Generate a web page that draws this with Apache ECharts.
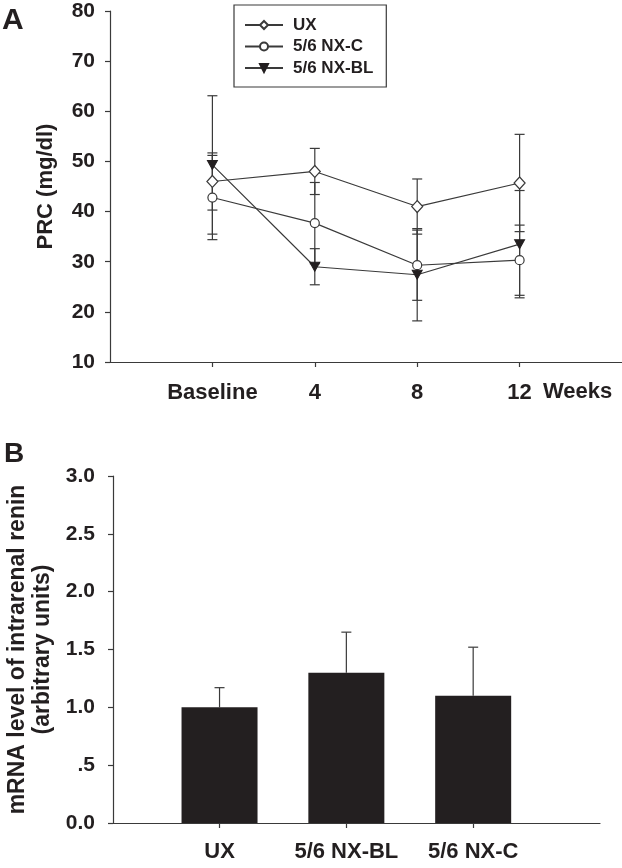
<!DOCTYPE html>
<html>
<head>
<meta charset="utf-8">
<script src="https://cdn.jsdelivr.net/npm/echarts@6/dist/echarts.min.js"></script>
<style>html,body{margin:0;padding:0;background:#fff}#c{width:622px;height:868px}</style>
</head>
<body>
<div id="c"></div>
<script>
// ---- Panel A data ----
const weekLabels = ['Baseline', '4', '8', '12'];
const weekPos = [1, 2, 3, 4];
const seriesNames = ['UX', '5/6 NX-C', '5/6 NX-BL'];
const uxMean = [46.0, 48.0, 41.0, 45.7];
const uxSE   = [5.7, 4.6, 5.5, 9.7];
const ncMean = [42.8, 37.7, 29.3, 30.3];
const ncSE   = [8.4, 8.1, 7.0, 7.0];
const blMean = [49.3, 29.0, 27.4, 33.5];
const blSE   = [13.8, 3.6, 9.2, 10.7];

// ---- Panel B data ----
const groupLabels = ['UX', '5/6 NX-BL', '5/6 NX-C'];
const groupPos = [1, 2, 3];
const mrnaMean = [1.00, 1.30, 1.10];
const mrnaSE   = [0.17, 0.35, 0.42];

const INK = '#231f20';
const AX = '#3a3a3a';
const FONT = '"Liberation Sans", Arial, Helvetica, sans-serif';

function pts(pos, vals) { return pos.map((p, i) => [p, vals[i]]); }
function errPts(pos, m, s) { return pos.map((p, i) => [p, m[i], s[i]]); }

function errRender(both) {
  return function (params, api) {
    const x = api.value(0), m = api.value(1), e = api.value(2);
    const top = api.coord([x, m + e]);
    const bot = api.coord([x, both ? m - e : m]);
    const hw = 5;
    const st = { stroke: AX, lineWidth: 1.2 };
    const ch = [
      { type: 'line', shape: { x1: top[0], y1: top[1], x2: bot[0], y2: bot[1] }, style: st },
      { type: 'line', shape: { x1: top[0] - hw, y1: top[1], x2: top[0] + hw, y2: top[1] }, style: st }
    ];
    if (both) ch.push({ type: 'line', shape: { x1: bot[0] - hw, y1: bot[1], x2: bot[0] + hw, y2: bot[1] }, style: st });
    return { type: 'group', children: ch };
  };
}

const chart = echarts.init(document.getElementById('c'), null, { renderer: 'canvas' });

const axisCommon = {
  axisLine: { show: true, lineStyle: { color: AX, width: 1.2 } },
  axisTick: { show: true, inside: false, length: 5, lineStyle: { color: AX, width: 1.2 } },
  splitLine: { show: false }
};

const option = {
  animation: false,
  backgroundColor: '#fff',
  textStyle: { fontFamily: FONT },
  grid: [
    { left: 110, top: 11, width: 512, height: 351, containLabel: false, outerBoundsMode: 'none' },
    { left: 113, top: 476, width: 487, height: 347, containLabel: false, outerBoundsMode: 'none' }
  ],
  xAxis: [
    Object.assign({}, axisCommon, {
      gridIndex: 0, type: 'value', min: 0, max: 5,
      axisTick: Object.assign({}, axisCommon.axisTick, { customValues: weekPos }),
      axisLabel: {
        customValues: weekPos, margin: 20, color: INK, fontSize: 22, fontWeight: 'bold', fontFamily: FONT,
        formatter: v => weekLabels[weekPos.indexOf(v)] || ''
      }
    }),
    Object.assign({}, axisCommon, {
      gridIndex: 1, type: 'value', min: 0.16, max: 4,
      axisTick: Object.assign({}, axisCommon.axisTick, { customValues: groupPos }),
      axisLabel: {
        customValues: groupPos, margin: 18, color: INK, fontSize: 22, fontWeight: 'bold', fontFamily: FONT,
        formatter: v => groupLabels[groupPos.indexOf(v)] || ''
      }
    })
  ],
  yAxis: [
    Object.assign({}, axisCommon, {
      gridIndex: 0, type: 'value', min: 10, max: 80, interval: 10,
      axisLabel: { margin: 15, color: INK, fontSize: 21, fontWeight: 'bold', fontFamily: FONT },
      name: 'PRC (mg/dl)', nameLocation: 'middle', nameRotate: 90, nameGap: 53,
      nameTextStyle: { color: INK, fontSize: 22, fontWeight: 'bold', fontFamily: FONT }
    }),
    Object.assign({}, axisCommon, {
      gridIndex: 1, type: 'value', min: 0, max: 3, interval: 0.5,
      axisLabel: {
        margin: 18, color: INK, fontSize: 21, fontWeight: 'bold', fontFamily: FONT,
        formatter: v => (v === 0 ? '0.0' : (v < 1 ? '.' + String(v).split('.')[1] : v.toFixed(1)))
      },
      name: 'mRNA level of intrarenal renin\n(arbitrary units)', nameLocation: 'middle', nameRotate: 90, nameGap: 57,
      nameTextStyle: { color: INK, fontSize: 23, fontWeight: 'bold', fontFamily: FONT, lineHeight: 25 }
    })
  ],
  legend: {
    left: 234, top: 5, orient: 'vertical',
    data: seriesNames,
    itemWidth: 38, itemHeight: 10, itemGap: 4.5,
    padding: [11.5, 13, 10.5, 10],
    borderColor: AX, borderWidth: 1.2,
    textStyle: { color: INK, fontSize: 17, fontWeight: 'bold', fontFamily: FONT, padding: [0, 0, 0, 5] }
  },
  graphic: [
    { type: 'text', left: 2, top: 6, style: { text: 'A', fill: INK, font: 'bold 30px ' + FONT } },
    { type: 'text', left: 4, top: 440, style: { text: 'B', fill: INK, font: 'bold 28px ' + FONT } },
    { type: 'text', left: 543, top: 381, style: { text: 'Weeks', fill: INK, font: 'bold 22px ' + FONT } }
  ],
  series: [
    { type: 'custom', name: 'errUX', xAxisIndex: 0, yAxisIndex: 0, z: 1, renderItem: errRender(true), data: errPts(weekPos, uxMean, uxSE) },
    { type: 'custom', name: 'errNC', xAxisIndex: 0, yAxisIndex: 0, z: 1, renderItem: errRender(true), data: errPts(weekPos, ncMean, ncSE) },
    { type: 'custom', name: 'errBL', xAxisIndex: 0, yAxisIndex: 0, z: 1, renderItem: errRender(true), data: errPts(weekPos, blMean, blSE) },
    {
      type: 'line', name: 'UX', xAxisIndex: 0, yAxisIndex: 0, z: 3,
      data: pts(weekPos, uxMean), symbol: 'diamond', symbolSize: [11, 12],
      lineStyle: { color: AX, width: 1.2 }, itemStyle: { color: '#fff', borderColor: AX, borderWidth: 1.2 }
    },
    {
      type: 'line', name: '5/6 NX-C', xAxisIndex: 0, yAxisIndex: 0, z: 3,
      data: pts(weekPos, ncMean), symbol: 'circle', symbolSize: 9,
      lineStyle: { color: AX, width: 1.2 }, itemStyle: { color: '#fff', borderColor: AX, borderWidth: 1.2 }
    },
    {
      type: 'line', name: '5/6 NX-BL', xAxisIndex: 0, yAxisIndex: 0, z: 3,
      data: pts(weekPos, blMean), symbol: 'triangle', symbolRotate: 180, symbolSize: [10, 9],
      lineStyle: { color: AX, width: 1.2 }, itemStyle: { color: INK, borderColor: INK, borderWidth: 1 }
    },
    {
      type: 'bar', name: 'mRNA', xAxisIndex: 1, yAxisIndex: 1, barWidth: 76, z: 2,
      data: pts(groupPos, mrnaMean), itemStyle: { color: INK }
    },
    { type: 'custom', name: 'errMRNA', xAxisIndex: 1, yAxisIndex: 1, z: 1, renderItem: errRender(false), data: errPts(groupPos, mrnaMean, mrnaSE) }
  ]
};
chart.setOption(option);
</script>
</body>
</html>
